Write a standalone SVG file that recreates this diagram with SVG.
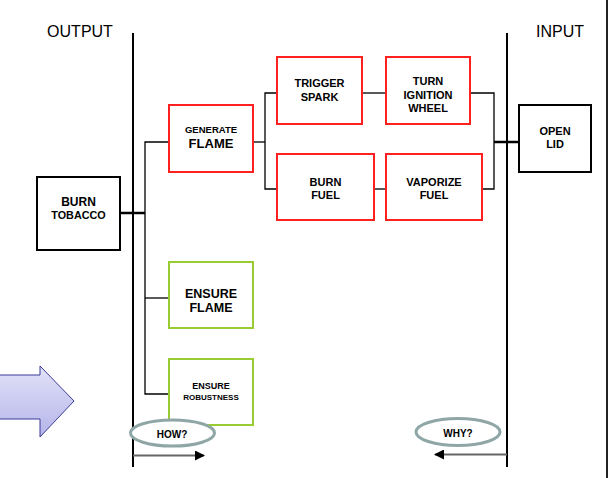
<svg xmlns="http://www.w3.org/2000/svg" width="610" height="478" viewBox="0 0 610 478">
<style>
text{font-family:"Liberation Sans",Arial,sans-serif;fill:#000;text-anchor:middle}
.b{font-weight:bold}
.red{fill:#fff;stroke:#ff2020;stroke-width:2}
.grn{fill:#fff;stroke:#99cc33;stroke-width:2}
.blk{fill:#fff;stroke:#000;stroke-width:2}
.c{fill:none;stroke:#000;stroke-width:1.3}
.ck{fill:none;stroke:#000;stroke-width:2.5}
.ell{fill:#fff;stroke:#8fa6a6;stroke-width:3}
</style>
<defs>
<linearGradient id="ag" x1="0" y1="0" x2="0" y2="1">
<stop offset="0" stop-color="#e2e2f8"/>
<stop offset="1" stop-color="#b4b4ea"/>
</linearGradient>
<marker id="ah" markerWidth="10" markerHeight="10" refX="9" refY="5" orient="auto" markerUnits="userSpaceOnUse">
<path d="M0,0 L10,5 L0,10 Z" fill="#000"/>
</marker>
</defs>
<rect width="610" height="478" fill="#fff"/>
<text x="80" y="37" font-size="16">OUTPUT</text>
<text x="560" y="37" font-size="16">INPUT</text>
<g id="axes">
<line x1="133" y1="33" x2="133" y2="467" stroke="#000" stroke-width="2"/>
<line x1="507" y1="33" x2="507" y2="467" stroke="#000" stroke-width="2"/>
<line x1="607" y1="0" x2="607" y2="478" stroke="#222" stroke-width="2"/>
</g>
<g id="connectors">
<line class="ck" x1="120" y1="213" x2="145" y2="213"/>
<polyline class="c" points="169,142 145,142 145,394 169,394"/>
<line class="c" x1="145" y1="298" x2="169" y2="298"/>
<polyline class="c" points="277,93 265,93 265,189 277,189"/>
<line class="c" x1="253" y1="142" x2="265" y2="142"/>
<line class="c" x1="362" y1="93" x2="386" y2="93"/>
<line class="c" x1="374" y1="189" x2="386" y2="189"/>
<polyline class="c" points="470,93 494,93 494,189 482,189"/>
<line class="ck" x1="494" y1="142" x2="519" y2="142"/>
<line x1="133" y1="455.5" x2="204" y2="455.5" stroke="#666" stroke-width="2" marker-end="url(#ah)"/>
<line x1="507" y1="454.5" x2="435" y2="454.5" stroke="#666" stroke-width="2" marker-end="url(#ah)"/>
</g>
<g id="burn-tobacco">
<rect class="blk" x="37" y="177" width="83" height="73"/>
<text class="b" x="78.5" y="206" font-size="12">BURN</text>
<text class="b" x="78.5" y="218.5" font-size="10.8">TOBACCO</text>
</g>
<g id="generate-flame">
<rect class="red" x="169" y="105" width="84" height="67"/>
<text class="b" x="211" y="133" font-size="9.5">GENERATE</text>
<text class="b" x="211" y="148" font-size="13">FLAME</text>
</g>
<g id="ensure-flame">
<rect class="grn" x="169" y="262" width="84" height="66"/>
<text class="b" x="211" y="297.5" font-size="12.5">ENSURE</text>
<text class="b" x="211" y="312" font-size="12.5">FLAME</text>
</g>
<g id="ensure-robustness">
<rect class="grn" x="169" y="359" width="84" height="66"/>
<text class="b" x="211" y="388.5" font-size="9">ENSURE</text>
<text class="b" x="211" y="400" font-size="8">ROBUSTNESS</text>
</g>
<g id="trigger-spark">
<rect class="red" x="277" y="57" width="85" height="67"/>
<text class="b" x="319.5" y="87" font-size="11">TRIGGER</text>
<text class="b" x="319.5" y="101" font-size="11">SPARK</text>
</g>
<g id="turn-ignition-wheel">
<rect class="red" x="386" y="57" width="84" height="67"/>
<text class="b" x="428" y="85" font-size="11">TURN</text>
<text class="b" x="428" y="98.5" font-size="11">IGNITION</text>
<text class="b" x="428" y="112" font-size="11">WHEEL</text>
</g>
<g id="burn-fuel">
<rect class="red" x="277" y="154" width="97" height="66"/>
<text class="b" x="325.5" y="186" font-size="11">BURN</text>
<text class="b" x="325.5" y="199" font-size="11">FUEL</text>
</g>
<g id="vaporize-fuel">
<rect class="red" x="386" y="154" width="96" height="66"/>
<text class="b" x="434" y="186" font-size="11">VAPORIZE</text>
<text class="b" x="434" y="199" font-size="11">FUEL</text>
</g>
<g id="open-lid">
<rect class="blk" x="519" y="105" width="72" height="67"/>
<text class="b" x="555" y="135" font-size="11">OPEN</text>
<text class="b" x="555" y="148" font-size="11">LID</text>
</g>
<g id="how">
<ellipse class="ell" cx="172.5" cy="433" rx="42" ry="13"/>
<text class="b" x="172" y="437.5" font-size="10">HOW?</text>
</g>
<g id="why">
<ellipse class="ell" cx="458" cy="432" rx="42" ry="13.5"/>
<text class="b" x="458" y="437" font-size="10">WHY?</text>
</g>
<g id="big-arrow">
<path d="M-2,375 L40,375 L40,366 L74,401 L40,437 L40,419 L-2,419 Z" fill="url(#ag)" stroke="#3a3a9a" stroke-width="1"/>
</g>
</svg>
